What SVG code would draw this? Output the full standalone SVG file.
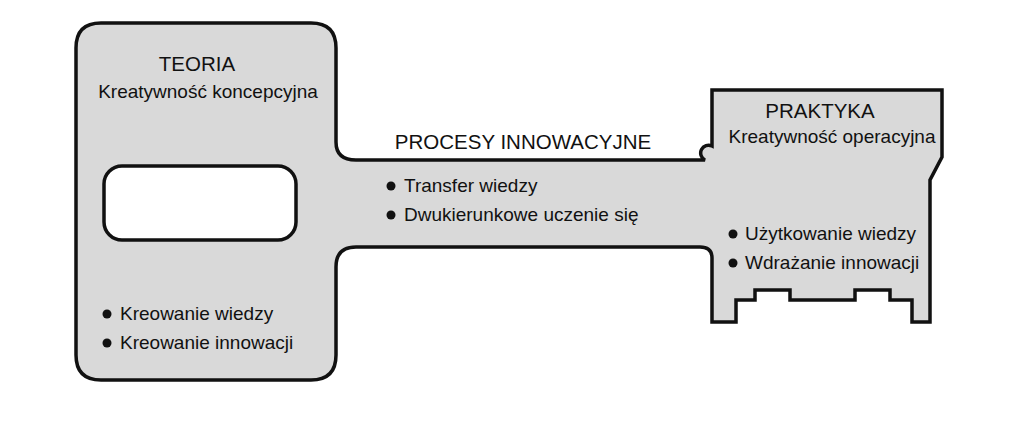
<svg xmlns="http://www.w3.org/2000/svg" width="1024" height="428" viewBox="0 0 1024 428">
<style>
.s{fill:#d9d9d9;stroke:#111;stroke-width:3.5;stroke-linejoin:miter}
text{font-family:"Liberation Sans",Arial,sans-serif;font-size:19px;fill:#111}
.t{font-size:20.5px}
.b{fill:#111}
</style>
<rect width="1024" height="428" fill="#fff"/>
<g id="key">
<path class="s" d="M101,23 H311 Q336,23 336,48 V142 Q336,160 356,160 H705 A7,7 0 0 1 712,146 V90 H942 V157 L930,180 V322 H912 V300 H890 V290 H855 V300 H790 V290 H755 V300 H736 V322 H712 V258 Q712,247 700,247 H356 Q336,247 336,267 V355 Q336,380 311,380 H101 Q76,380 76,355 V48 Q76,23 101,23 Z"/>
<rect x="104" y="166" width="192" height="74" rx="18" fill="#fff" stroke="#111" stroke-width="3.5"/>
</g>
<g id="teoria">
<text class="t" x="197" y="71" text-anchor="middle">TEORIA</text>
<text x="208" y="98" text-anchor="middle">Kreatywność koncepcyjna</text>
<circle class="b" cx="107" cy="314" r="4.5"/><text x="120" y="320">Kreowanie wiedzy</text>
<circle class="b" cx="107" cy="343" r="4.5"/><text x="120" y="349">Kreowanie innowacji</text>
</g>
<g id="procesy">
<text class="t" x="523" y="149" text-anchor="middle">PROCESY INNOWACYJNE</text>
<circle class="b" cx="391" cy="186" r="4.5"/><text x="404" y="192">Transfer wiedzy</text>
<circle class="b" cx="391" cy="215" r="4.5"/><text x="404" y="221">Dwukierunkowe uczenie się</text>
</g>
<g id="praktyka">
<text class="t" x="820" y="118" text-anchor="middle">PRAKTYKA</text>
<text x="832" y="143" text-anchor="middle">Kreatywność operacyjna</text>
<circle class="b" cx="733" cy="234" r="4.5"/><text x="745" y="240">Użytkowanie wiedzy</text>
<circle class="b" cx="733" cy="263" r="4.5"/><text x="745" y="269">Wdrażanie innowacji</text>
</g>
<g id="connectors"></g>
</svg>
